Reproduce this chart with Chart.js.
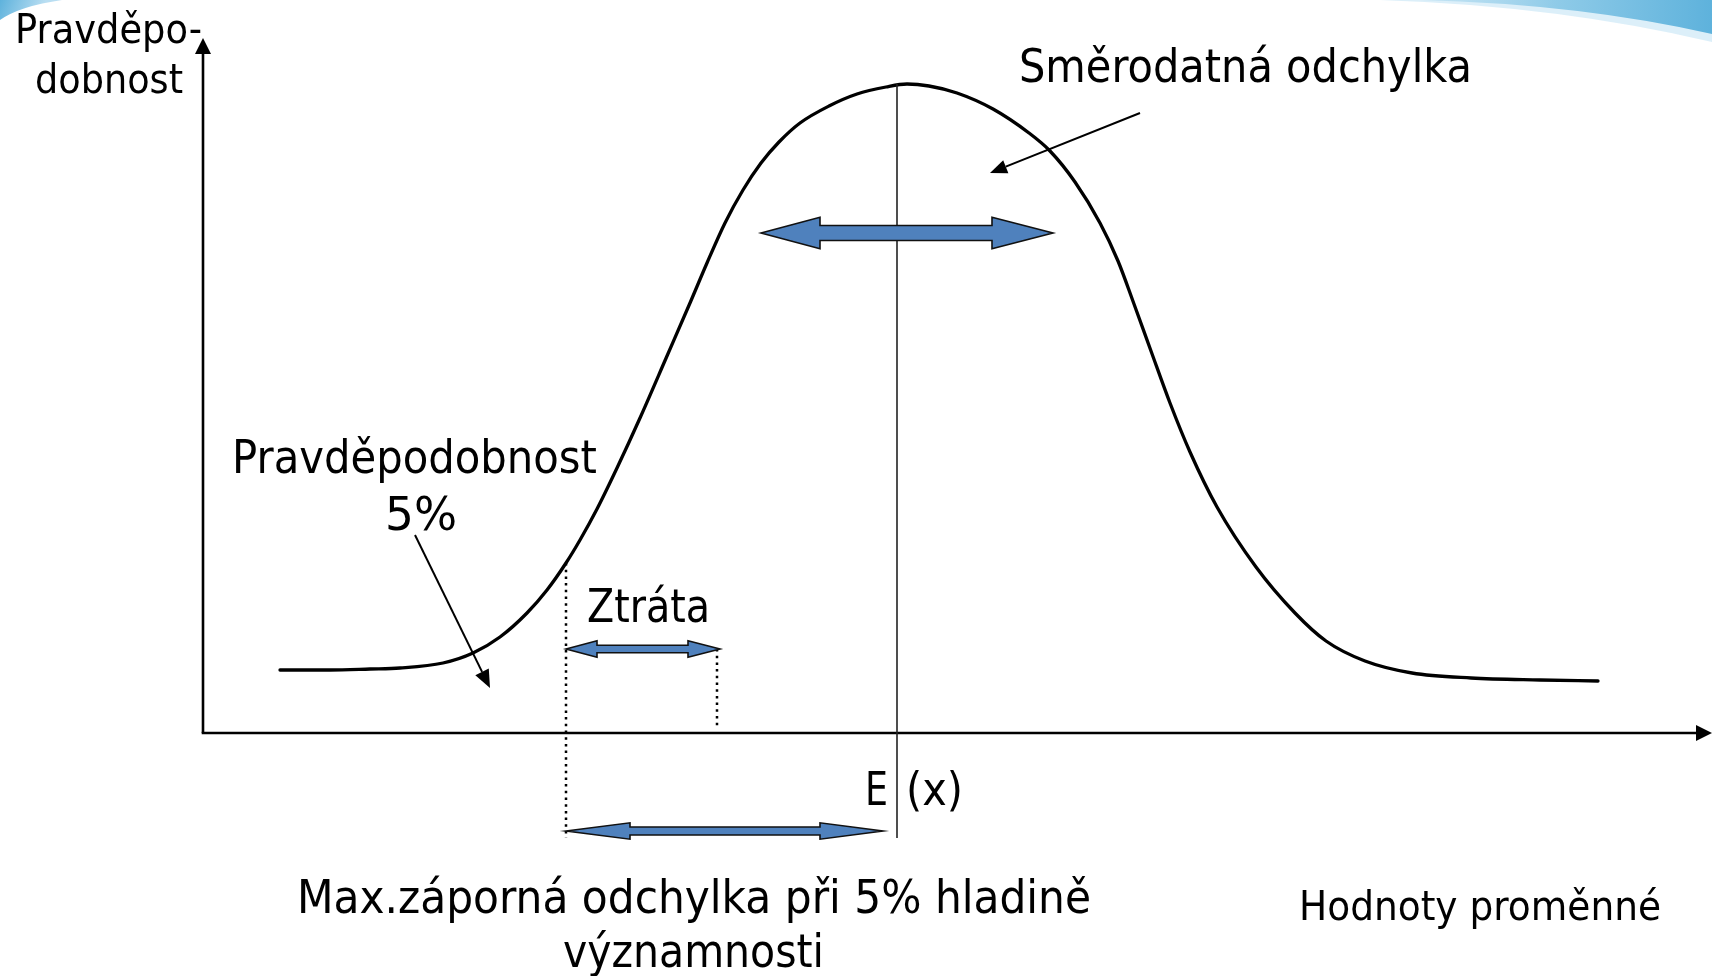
<!DOCTYPE html>
<html><head><meta charset="utf-8">
<script src="https://cdn.jsdelivr.net/npm/chart.js@4.4.1/dist/chart.umd.min.js"></script>
<style>html,body{margin:0;padding:0;background:#fff;overflow:hidden}#wrap{width:1712px;height:976px}</style>
</head><body><div id="wrap"><canvas id="c" width="1712" height="976"></canvas></div>
<script>
// Bell curve (Hodnoty proměnné -> Pravděpodobnost), arbitrary units
const curveX = [77,127,167,197,240,270,297,324,344,363,377,394,414,437,464,487,504,522,540,558,576,597,626,654,683,704,726,754,790,826,847,872,897,915,931,948,967,987,1014,1053,1092,1123,1162,1209,1268,1337,1395];
const curveY = [63,63,64,65,70,80,96,120,143,170,193,224,265,315,377,430,470,510,543,570,591,610,627,639,646,649,647,640,624,600,582,551,510,472,429,382,330,281,226,166,120,92,72,60,55,53,52];

// axis ranges
const xRange = [0, 1509];
const yRange = [0, 695];

// key positions on the value axis
const meanX = 694;        // E(x)
const critX = 363;        // 5% quantile
const lossEndX = 514;     // end of "Ztráta"
const sigmaFrom = 558, sigmaTo = 850, sigmaY = 500;
const lossArrowY = 84;
const maxDevY = -98;
const meanLineBottom = -105;

// text labels
const labelText = ["Pravděpo-","dobnost","Směrodatná odchylka","Pravděpodobnost","5%","Ztráta","E","(x)","Max.záporná odchylka při 5% hladině","významnosti","Hodnoty proměnné"];
const labelX    = [-188,-168,816,29,182,384,662,703,94,360,1096];
const labelY    = [690,640,651,260,203,111,-72,-72,-180,-234,-187];
const labelSize = [40,40,46,46,46,46,46,46,46,46,40];
const labelW    = [187,148,453,365,72,123,23,57,794,261,362];

const points = curveX.map((x,i)=>({x:x,y:curveY[i]}));

function blockArrow(ctx,x1,x2,y,sh,hh,hl1,hl2){
  ctx.beginPath();
  ctx.moveTo(x1,y);
  ctx.lineTo(x1+hl1,y-hh);
  ctx.lineTo(x1+hl1,y-sh);
  ctx.lineTo(x2-hl2,y-sh);
  ctx.lineTo(x2-hl2,y-hh);
  ctx.lineTo(x2,y);
  ctx.lineTo(x2-hl2,y+hh);
  ctx.lineTo(x2-hl2,y+sh);
  ctx.lineTo(x1+hl1,y+sh);
  ctx.lineTo(x1+hl1,y+hh);
  ctx.closePath();
  ctx.fillStyle='#4F81BD';
  ctx.fill();
  ctx.lineWidth=1.6;
  ctx.strokeStyle='#111';
  ctx.lineJoin='miter';
  ctx.stroke();
}
function lineArrow(ctx,x1,y1,x2,y2,w,hl,hw){
  const a=Math.atan2(y2-y1,x2-x1);
  const bx=x2-hl*Math.cos(a), by=y2-hl*Math.sin(a);
  ctx.beginPath();ctx.moveTo(x1,y1);ctx.lineTo(bx,by);
  ctx.strokeStyle='#000';ctx.lineWidth=w;ctx.lineCap='butt';ctx.stroke();
  ctx.beginPath();
  ctx.moveTo(x2,y2);
  ctx.lineTo(bx+hw*Math.sin(a),by-hw*Math.cos(a));
  ctx.lineTo(bx-hw*Math.sin(a),by+hw*Math.cos(a));
  ctx.closePath();ctx.fillStyle='#000';ctx.fill();
}
function fitText(ctx,str,x,y,size,w){
  ctx.font=size+'px "DejaVu Sans"';
  const m=ctx.measureText(str).width;
  ctx.save();ctx.translate(x,y);ctx.scale(w/m,1);
  ctx.fillStyle='#000';ctx.textAlign='left';ctx.textBaseline='alphabetic';
  ctx.fillText(str,0,0);ctx.restore();
}

const deco = {
  id:'deco',
  beforeDraw(chart){
    const ctx=chart.ctx;
    ctx.save();
    ctx.fillStyle='#fff';ctx.fillRect(0,0,chart.width,chart.height);
    // top-right swoosh
    let g=ctx.createLinearGradient(1400,0,1712,0);
    g.addColorStop(0,'rgba(190,225,243,0.6)');g.addColorStop(0.5,'#8fcbe8');g.addColorStop(1,'#5eb2dc');
    ctx.beginPath();ctx.moveTo(1380,0);ctx.quadraticCurveTo(1560,6,1712,42);ctx.lineTo(1712,0);ctx.closePath();
    ctx.fillStyle='rgba(205,232,246,0.7)';ctx.fill();
    ctx.beginPath();ctx.moveTo(1420,0);ctx.quadraticCurveTo(1580,4,1712,34);ctx.lineTo(1712,0);ctx.closePath();
    ctx.fillStyle=g;ctx.fill();
    // top-left swoosh
    let g2=ctx.createLinearGradient(0,0,40,16);
    g2.addColorStop(0,'#5eb2dc');g2.addColorStop(1,'#b9def2');
    ctx.beginPath();ctx.moveTo(0,0);ctx.lineTo(62,0);ctx.quadraticCurveTo(20,6,0,20);ctx.closePath();
    ctx.fillStyle=g2;ctx.fill();
    ctx.restore();
  },
  afterDatasetsDraw(chart){
    const ctx=chart.ctx, xs=chart.scales.x, ys=chart.scales.y, A=chart.chartArea;
    const X=v=>xs.getPixelForValue(v), Y=v=>ys.getPixelForValue(v);
    ctx.save();
    // axes with arrowheads
    ctx.strokeStyle='#000';ctx.lineWidth=2.6;ctx.lineCap='butt';
    ctx.beginPath();ctx.moveTo(A.left,A.bottom);ctx.lineTo(A.left,A.top+14);ctx.stroke();
    ctx.beginPath();ctx.moveTo(A.left-1.3,A.bottom);ctx.lineTo(A.right-14,A.bottom);ctx.stroke();
    ctx.fillStyle='#000';
    ctx.beginPath();ctx.moveTo(A.left,A.top);ctx.lineTo(A.left-8,A.top+16);ctx.lineTo(A.left+8,A.top+16);ctx.closePath();ctx.fill();
    ctx.beginPath();ctx.moveTo(A.right,A.bottom);ctx.lineTo(A.right-16,A.bottom-8);ctx.lineTo(A.right-16,A.bottom+8);ctx.closePath();ctx.fill();
    // mean line
    ctx.strokeStyle='#222';ctx.lineWidth=1.6;
    ctx.beginPath();ctx.moveTo(X(meanX),Y(649));ctx.lineTo(X(meanX),Y(meanLineBottom));ctx.stroke();
    // dotted lines
    ctx.strokeStyle='#000';ctx.lineWidth=2.5;ctx.setLineDash([2.5,4.2]);
    ctx.beginPath();ctx.moveTo(X(critX),Y(170));ctx.lineTo(X(critX),Y(meanLineBottom));ctx.stroke();
    ctx.beginPath();ctx.moveTo(X(lossEndX),Y(lossArrowY));ctx.lineTo(X(lossEndX),Y(4));ctx.stroke();
    ctx.setLineDash([]);
    // block arrows
    blockArrow(ctx,X(sigmaFrom),X(sigmaTo),Y(sigmaY),7.5,15.8,59,61);
    blockArrow(ctx,X(critX),X(517),Y(lossArrowY),3.8,8.2,31,32);
    blockArrow(ctx,X(critX),X(680),Y(maxDevY),4,8.2,64,63);
    // pointer arrows
    lineArrow(ctx,X(937),Y(620),X(787),Y(560),2,17,7);
    lineArrow(ctx,X(212),Y(198),X(287),Y(45),2,18,7.5);
    // texts
    for(let i=0;i<labelText.length;i++) fitText(ctx,labelText[i],X(labelX[i]),Y(labelY[i]),labelSize[i],labelW[i]);
    ctx.restore();
  }
};

new Chart(document.getElementById('c'),{
  type:'line',
  data:{datasets:[{data:points,borderColor:'#000',borderWidth:3.3,pointRadius:0,fill:false,
    cubicInterpolationMode:'monotone',borderCapStyle:'round',borderJoinStyle:'round',clip:false}]},
  options:{
    responsive:false,animation:false,devicePixelRatio:1,
    layout:{padding:{left:203,right:0,top:38,bottom:243}},
    plugins:{legend:{display:false},tooltip:{enabled:false}},
    scales:{
      x:{type:'linear',min:xRange[0],max:xRange[1],display:false},
      y:{type:'linear',min:yRange[0],max:yRange[1],display:false}
    }
  },
  plugins:[deco]
});
</script></body></html>
